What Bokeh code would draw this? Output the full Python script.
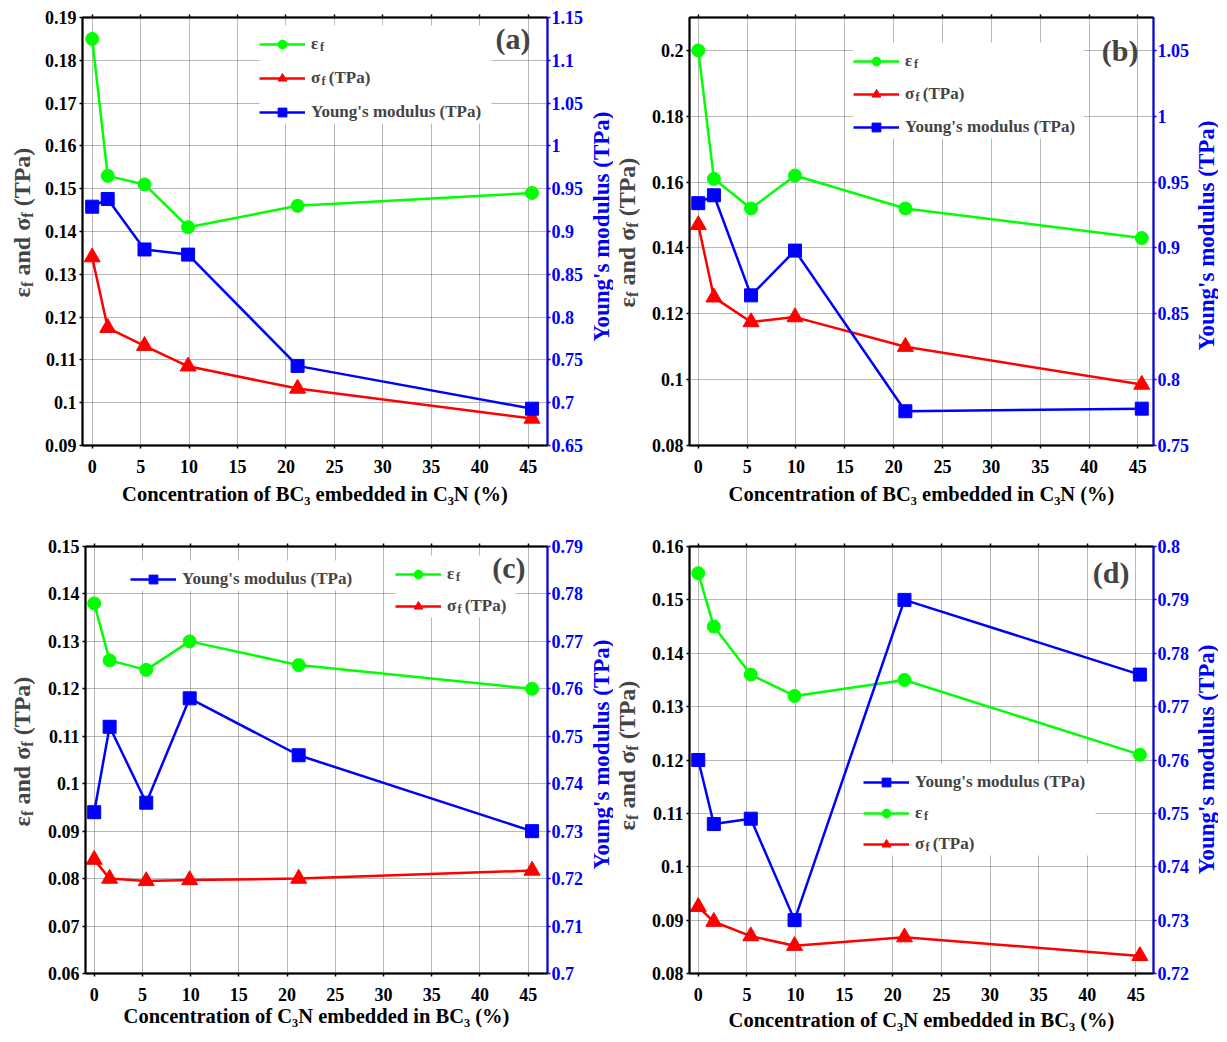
import math
from bokeh.plotting import figure
from bokeh.models import (Range1d, LinearAxis, FixedTicker, CustomJSTickFormatter,
                          Legend, LegendItem, Label, BoxAnnotation)
from bokeh.layouts import row, column
from bokeh.embed import file_html
from bokeh.resources import INLINE

# ---------------- data ----------------
conc = [0, 1.6, 5.4, 9.9, 21.2, 45.4]
x_ticks = [0, 5, 10, 15, 20, 25, 30, 35, 40, 45]

a_eps = [0.185, 0.153, 0.151, 0.141, 0.146, 0.149]
a_sig = [0.134, 0.1175, 0.1133, 0.1085, 0.1033, 0.0963]
a_ym = [0.929, 0.938, 0.879, 0.873, 0.743, 0.693]
a_left_ticks = [0.09, 0.10, 0.11, 0.12, 0.13, 0.14, 0.15, 0.16, 0.17, 0.18, 0.19]
a_right_ticks = [0.65, 0.70, 0.75, 0.80, 0.85, 0.90, 0.95, 1.00, 1.05, 1.10, 1.15]

b_eps = [0.200, 0.161, 0.152, 0.162, 0.152, 0.143]
b_sig = [0.147, 0.125, 0.1175, 0.119, 0.110, 0.0985]
b_ym = [0.934, 0.940, 0.864, 0.898, 0.776, 0.778]
b_left_ticks = [0.08, 0.10, 0.12, 0.14, 0.16, 0.18, 0.20]
b_right_ticks = [0.75, 0.80, 0.85, 0.90, 0.95, 1.00, 1.05]

c_eps = [0.138, 0.126, 0.124, 0.130, 0.125, 0.120]
c_sig = [0.084, 0.080, 0.0795, 0.0797, 0.080, 0.0817]
c_ym = [0.734, 0.752, 0.736, 0.758, 0.746, 0.730]
c_left_ticks = [0.06, 0.07, 0.08, 0.09, 0.10, 0.11, 0.12, 0.13, 0.14, 0.15]
c_right_ticks = [0.70, 0.71, 0.72, 0.73, 0.74, 0.75, 0.76, 0.77, 0.78, 0.79]

d_eps = [0.155, 0.145, 0.136, 0.132, 0.135, 0.121]
d_sig = [0.0925, 0.0897, 0.0870, 0.0852, 0.0868, 0.0833]
d_ym = [0.760, 0.748, 0.749, 0.730, 0.790, 0.776]
d_left_ticks = [0.08, 0.09, 0.10, 0.11, 0.12, 0.13, 0.14, 0.15, 0.16]
d_right_ticks = [0.72, 0.73, 0.74, 0.75, 0.76, 0.77, 0.78, 0.79, 0.80]

xlabel_top = "Concentration of BC\u2083 embedded in C\u2083N (%)"
xlabel_bot = "Concentration of C\u2083N embedded in BC\u2083 (%)"
ylabel_right = "Young's modulus (TPa)"

# ---------------- style ----------------
FONT = "Liberation Serif"
GREEN = "#00ff00"
RED = "#ff0000"
BLUE = "#0000ff"
H = 515
SL, SR = 30, 26          # widths of the left / right axis-title strips
PW = 605 - SL - SR       # width of each plot figure
TICK_FS = "18px"
LEG_FS = "17px"
NB = "\u00a0"


def fmt():
    return CustomJSTickFormatter(code="return String(parseFloat(tick.toFixed(4)));")


def style_axis(ax, color="black"):
    ax.axis_line_color = color
    ax.axis_line_width = 2
    ax.major_tick_line_color = color
    ax.major_tick_line_width = 1.5
    ax.major_tick_out = 3
    ax.major_tick_in = 0
    ax.minor_tick_line_color = None
    ax.major_label_text_font = FONT
    ax.major_label_text_font_style = "bold"
    ax.major_label_text_font_size = TICK_FS
    ax.major_label_text_color = color
    ax.axis_label_text_font = FONT
    ax.axis_label_text_font_style = "bold"
    ax.axis_label_text_color = color


def strip(width):
    s = figure(width=width, height=H, output_backend="svg", toolbar_location=None,
               min_border=0, x_axis_location=None, y_axis_location=None,
               outline_line_color=None, x_range=Range1d(0, 1), y_range=Range1d(0, 1))
    s.grid.visible = False
    return s


def make_panel(eps, sig, ym, xr, yl, yr, lt, rt, bl, br, bt, bb, xlabel, xl_standoff,
               tag, tag_off, legends):
    fw, fh = PW - bl - br, H - bt - bb
    p = figure(width=PW, height=H, x_range=Range1d(*xr), y_range=Range1d(*yl),
               output_backend="svg", toolbar_location=None,
               min_border_left=bl, min_border_right=br,
               min_border_top=bt, min_border_bottom=bb,
               outline_line_color="black", outline_line_width=1.5)
    p.extra_y_ranges = {"right": Range1d(*yr)}

    p.xaxis.ticker = FixedTicker(ticks=x_ticks)
    p.yaxis.ticker = FixedTicker(ticks=lt)
    p.yaxis.formatter = fmt()
    for ax in p.xaxis + p.yaxis:
        style_axis(ax)
    p.xaxis.major_label_standoff = 11
    p.yaxis.major_label_standoff = 3
    p.xaxis.axis_label = xlabel
    p.xaxis.axis_label_text_font_size = "20.5px"
    p.xaxis.axis_label_standoff = xl_standoff

    ra = LinearAxis(y_range_name="right", ticker=FixedTicker(ticks=rt), formatter=fmt())
    style_axis(ra, BLUE)
    ra.major_label_standoff = 1
    p.add_layout(ra, "right")

    ta = LinearAxis(ticker=FixedTicker(ticks=x_ticks),
                    formatter=CustomJSTickFormatter(code="return '';"))
    style_axis(ta)
    ta.major_label_text_font_size = "0px"
    ta.major_label_standoff = 0
    p.add_layout(ta, "above")

    for g in (p.xgrid, p.ygrid):
        g.grid_line_color = "#707070"
        g.grid_line_dash = "1 1"
        g.grid_line_width = 1
    p.xgrid.ticker = FixedTicker(ticks=x_ticks)
    p.ygrid.ticker = FixedTicker(ticks=lt)

    # legend backgrounds (white, hide the grid only)
    pad, gw, gh, stand = 4, 46, 22, 6
    label_w = {"eps": 14, "sig": 60, "ym": 172}
    sx = lambda px: xr[0] + px / fw * (xr[1] - xr[0])
    sy = lambda py: yl[0] + py / fh * (yl[1] - yl[0])
    for keys, lx, ly, sp in legends:
        n = len(keys)
        lh = 2 * pad + n * gh + (n - 1) * sp
        lw = 2 * pad + gw + stand + max(label_w[k] for k in keys)
        p.add_layout(BoxAnnotation(left=sx(lx), right=sx(lx + lw), bottom=sy(ly),
                                   top=sy(ly + lh), fill_color="white", fill_alpha=1.0,
                                   line_color=None, level="underlay"))

    r = {}
    l1 = p.line(conc, eps, line_color=GREEN, line_width=2.5)
    m1 = p.scatter(conc, eps, marker="circle", size=13, fill_color=GREEN, line_color=GREEN)
    r["eps"] = [l1, m1]
    l2 = p.line(conc, sig, line_color=RED, line_width=2.5)
    m2 = p.scatter(conc, sig, marker="triangle", size=16, fill_color=RED, line_color=RED)
    r["sig"] = [l2, m2]
    l3 = p.line(conc, ym, line_color=BLUE, line_width=2.5, y_range_name="right")
    m3 = p.scatter(conc, ym, marker="square", size=13, fill_color=BLUE, line_color=BLUE,
                   y_range_name="right")
    r["ym"] = [l3, m3]

    labels = {"eps": "\u03b5", "sig": "\u03c3" + NB + NB + "(TPa)", "ym": "Young's modulus (TPa)"}
    sub_dx = {"eps": 4.5, "sig": 6.0}
    for keys, lx, ly, sp in legends:
        items = [LegendItem(label=labels[k], renderers=r[k]) for k in keys]
        leg = Legend(items=items, location=(lx, ly), padding=pad, margin=0,
                     spacing=sp, glyph_width=gw, glyph_height=gh, label_standoff=stand,
                     label_text_font=FONT, label_text_font_style="bold",
                     label_text_font_size=LEG_FS, border_line_color=None,
                     background_fill_color=None, background_fill_alpha=0.0)
        p.add_layout(leg)
        n = len(keys)
        lh = 2 * pad + n * gh + (n - 1) * sp
        tx = lx + pad + gw + stand
        for i, k in enumerate(keys):
            if k in sub_dx:
                cy = ly + lh - pad - i * (gh + sp) - gh / 2
                p.add_layout(Label(x=tx + sub_dx[k], y=cy - 6, x_units="screen", y_units="screen",
                                   text="f", text_font=FONT, text_font_style="bold",
                                   text_font_size="12px", text_baseline="middle",
                                   level="overlay"))

    p.add_layout(Label(x=fw - tag_off[0], y=fh - tag_off[1], x_units="screen", y_units="screen",
                       text=tag, text_align="right", text_baseline="middle",
                       text_font=FONT, text_font_style="bold", text_font_size="30px",
                       level="overlay"))
    return p


# strips share the plot frame's top / bottom inside a row, so y is measured
# from that frame's bottom edge
def left_title(cy):
    s = strip(SL)
    # (text, font size, is subscript, start offset along the text direction)
    pieces = [("\u03b5", 24, False, 0), ("f", 16, True, 10.5), ("and \u03c3", 24, False, 22),
              ("f", 16, True, 79.7), ("(TPa)", 24, False, 91.2)]
    total = 150
    y0 = cy - total / 2
    for txt, fs, sub, off in pieces:
        s.add_layout(Label(x=13 + (6 if sub else 0), y=y0 + off, x_units="screen",
                           y_units="screen", text=txt, angle=math.pi / 2, text_align="left",
                           text_baseline="middle", text_font=FONT, text_font_style="bold",
                           text_font_size=f"{fs}px"))
    return s


def right_title(cy):
    s = strip(SR)
    s.add_layout(Label(x=14, y=cy, x_units="screen", y_units="screen",
                       text=ylabel_right, angle=math.pi / 2, text_align="center",
                       text_baseline="middle", text_font=FONT, text_font_style="bold",
                       text_font_size="23px", text_color=BLUE))
    return s


def build(panel_args, lcy, rcy):
    return [left_title(lcy), make_panel(*panel_args), right_title(rcy)]


# row 1: frame top 9, bottom border 78 ; row 2: frame top 23, bottom border 65
ga = build((a_eps, a_sig, a_ym, (-1, 47), (0.09, 0.19), (0.65, 1.15),
            a_left_ticks, a_right_ticks, 44, 40, 9, 78, xlabel_top, 7,
            "(a)", (17, 21), [(["eps", "sig", "ym"], 177, 322, 12)]), 223, 219)
gb = build((b_eps, b_sig, b_ym, (-0.9, 46.6), (0.08, 0.21), (0.75, 1.075),
            b_left_ticks, b_right_ticks, 46, 37, 9, 78, xlabel_top, 7,
            "(b)", (17, 33), [(["eps", "sig", "ym"], 164, 307, 11)]), 213, 210)
gc = build((c_eps, c_sig, c_ym, (-0.9, 47), (0.06, 0.15), (0.70, 0.79),
            c_left_ticks, c_right_ticks, 47, 40, 23, 65, xlabel_bot, 1,
            "(c)", (22, 21), [(["ym"], 45, 383, 10), (["eps", "sig"], 310, 356, 10)]), 222, 219)
gd = build((d_eps, d_sig, d_ym, (-0.9, 46.8), (0.08, 0.16), (0.72, 0.80),
            d_left_ticks, d_right_ticks, 46, 39, 23, 65, xlabel_bot, 5,
            "(d)", (24, 25.5), [(["ym", "eps", "sig"], 174, 118, 9)]), 218, 214)

layout = column(row(*ga, *gb, spacing=0), row(*gc, *gd, spacing=0), spacing=0,
                margin=(8, 0, 0, 8))
open("out.html", "w").write(file_html(layout, INLINE))
